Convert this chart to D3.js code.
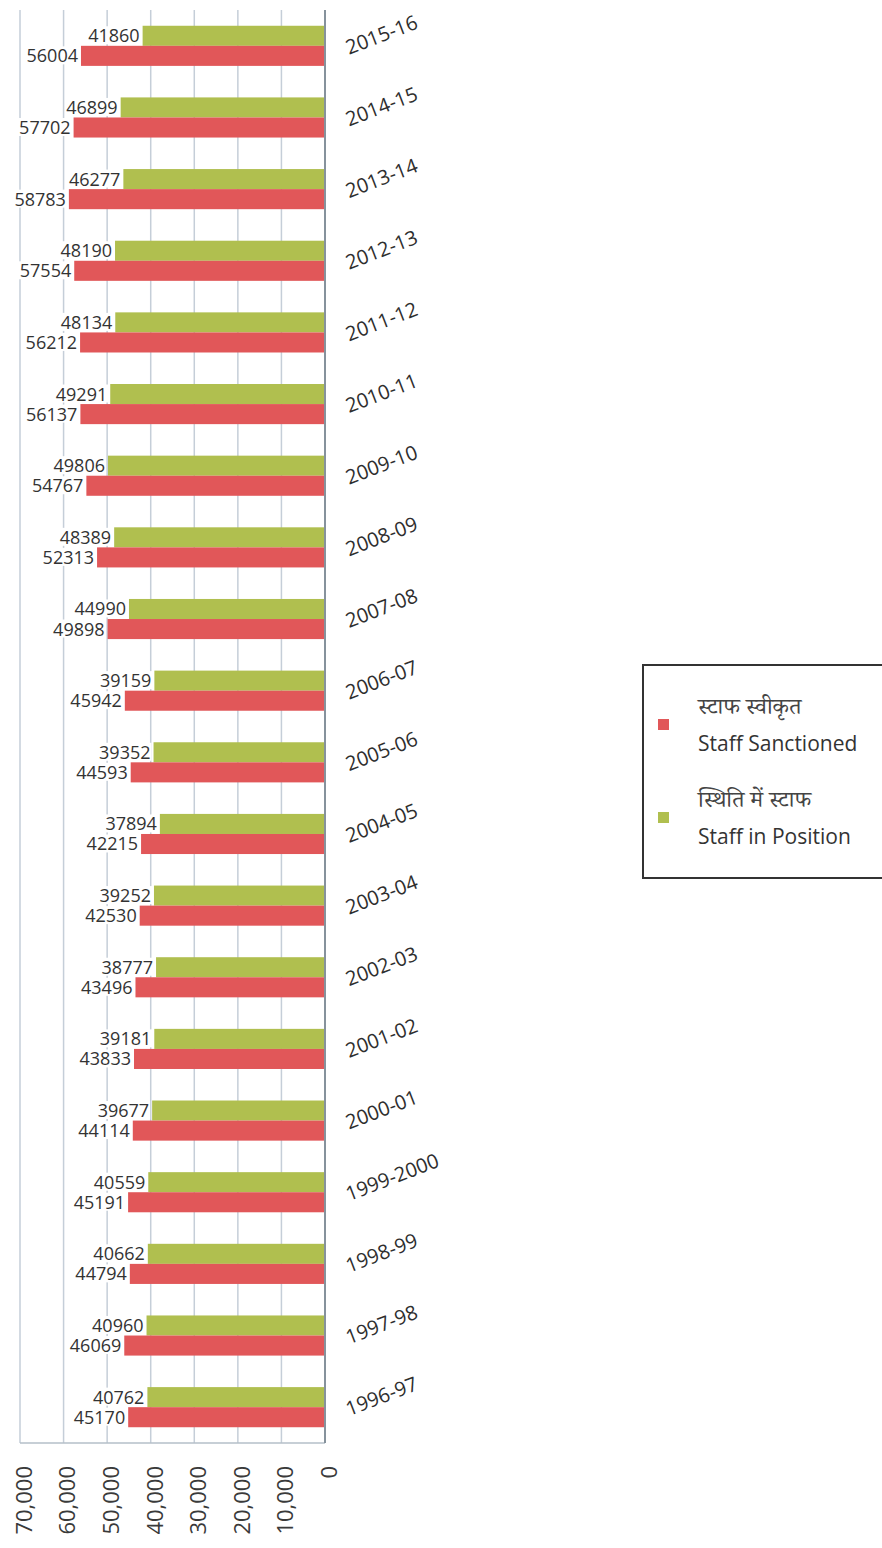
<!DOCTYPE html>
<html>
<head>
<meta charset="utf-8">
<script src="https://cdn.jsdelivr.net/npm/d3@7"></script>
<style>
  body { margin: 0; background: #fff; }
  svg { display: block; }
  text { font-family: "Open Sans", "Noto Sans", sans-serif; fill: #333; }
</style>
</head>
<body>
<svg id="chart" width="882" height="1548"></svg>
<script>
// data, top row first
const years = ['2015-16', '2014-15', '2013-14', '2012-13', '2011-12', '2010-11', '2009-10',
  '2008-09', '2007-08', '2006-07', '2005-06', '2004-05', '2003-04', '2002-03', '2001-02',
  '2000-01', '1999-2000', '1998-99', '1997-98', '1996-97'];
const inPosition = [41860, 46899, 46277, 48190, 48134, 49291, 49806, 48389, 44990, 39159,
  39352, 37894, 39252, 38777, 39181, 39677, 40559, 40662, 40960, 40762];
const sanctioned = [56004, 57702, 58783, 57554, 56212, 56137, 54767, 52313, 49898, 45942,
  44593, 42215, 42530, 43496, 43833, 44114, 45191, 44794, 46069, 45170];
const ticks = [0, 10000, 20000, 30000, 40000, 50000, 60000, 70000];
const seriesKeys = ['position', 'sanctioned'];
const seriesNames = {
  sanctioned: ['स्टाफ स्वीकृत', 'Staff Sanctioned'],
  position: ['स्थिति में स्टाफ', 'Staff in Position']
};
const colors = { sanctioned: '#e15759', position: '#b0bf4f' };

const svg = d3.select('#chart');
const plotTop = 10, plotBottom = 1443;

// x runs right to left: 0 sits on the right
const x = d3.scaleLinear().domain([0, 70000]).range([325, 20]);
const y = d3.scaleBand().domain(years).range([plotTop, plotBottom]).paddingInner(0.44).paddingOuter(0.22);
const ySub = d3.scaleBand().domain(seriesKeys).range([0, y.bandwidth()]);

const rows = years.map((yr, i) => ({ year: yr, position: inPosition[i], sanctioned: sanctioned[i] }));

// gridlines
svg.append('g')
   .selectAll('line')
   .data(ticks.slice(1))
   .enter()
   .append('line')
   .attr('x1', d => x(d)).attr('x2', d => x(d))
   .attr('y1', plotTop).attr('y2', plotBottom)
   .attr('stroke', '#c5ced8')
   .attr('stroke-width', 1.5);

// bottom axis line
svg.append('line')
   .attr('x1', x(70000)).attr('x2', x(0))
   .attr('y1', plotBottom).attr('y2', plotBottom)
   .attr('stroke', '#b5bfc9')
   .attr('stroke-width', 1.5);

// bars
const groups = svg.selectAll('g.row')
   .data(rows)
   .enter()
   .append('g')
   .attr('class', 'row')
   .attr('transform', d => 'translate(0,' + y(d.year) + ')');

groups.selectAll('rect')
   .data(d => seriesKeys.map(k => ({ key: k, value: d[k] })))
   .enter()
   .append('rect')
   .attr('x', d => x(d.value))
   .attr('y', d => ySub(d.key))
   .attr('width', d => x(0) - x(d.value))
   .attr('height', ySub.bandwidth())
   .attr('fill', d => colors[d.key]);

// value labels with white box behind
const labels = groups.selectAll('g.lbl')
   .data(d => seriesKeys.map(k => ({ key: k, value: d[k] })))
   .enter()
   .append('g')
   .attr('class', 'lbl');

labels.append('text')
   .attr('x', d => x(d.value) - 3)
   .attr('y', d => ySub(d.key) + ySub.bandwidth() / 2)
   .attr('dy', '0.36em')
   .attr('text-anchor', 'end')
   .style('font-size', '18px')
   .text(d => d.value);

labels.each(function () {
  const g = d3.select(this);
  const b = g.select('text').node().getBBox();
  g.insert('rect', 'text')
   .attr('x', b.x - 1).attr('y', b.y + 3)
   .attr('width', b.width + 2).attr('height', b.height - 6)
   .attr('fill', '#fff');
});

// zero axis line
svg.append('line')
   .attr('x1', x(0)).attr('x2', x(0))
   .attr('y1', plotTop).attr('y2', plotBottom)
   .attr('stroke', '#86929c')
   .attr('stroke-width', 2);

// year labels, tilted
svg.append('g')
   .selectAll('text')
   .data(years)
   .enter()
   .append('text')
   .attr('transform', d => 'translate(349,' + (y(d) + y.bandwidth() / 2 + 9) + ') rotate(-21)')
   .style('font-size', '20px')
   .style('fill', '#2e2e2e')
   .text(d => d);

// tick labels, rotated
svg.append('g')
   .selectAll('text')
   .data(ticks)
   .enter()
   .append('text')
   .attr('transform', d => 'translate(' + (x(d) + 4) + ',1466) rotate(-90)')
   .attr('text-anchor', 'end')
   .attr('dy', '0.36em')
   .style('font-size', '22px')
   .style('fill', '#3a3a3a')
   .text(d => d3.format(',')(d));

// legend
const legend = svg.append('g').attr('transform', 'translate(643,665)');
legend.append('rect')
   .attr('width', 260).attr('height', 213)
   .attr('fill', '#fff')
   .attr('stroke', '#333')
   .attr('stroke-width', 2);

const items = legend.selectAll('g.item')
   .data(['sanctioned', 'position'])
   .enter()
   .append('g')
   .attr('class', 'item')
   .attr('transform', (d, i) => 'translate(0,' + (i * 93) + ')');

items.append('rect')
   .attr('x', 15).attr('y', 54)
   .attr('width', 11).attr('height', 11)
   .attr('fill', d => colors[d]);

items.append('text')
   .attr('x', 55).attr('y', 49)
   .style('font-size', '23px')
   .style('fill', '#444')
   .style('font-family', '"Noto Serif Devanagari", "Noto Sans Devanagari", "Lohit Devanagari", sans-serif')
   .text(d => seriesNames[d][0]);

items.append('text')
   .attr('x', 55).attr('y', 86)
   .style('font-size', '21px')
   .style('fill', '#333')
   .text(d => seriesNames[d][1]);
</script>
</body>
</html>
